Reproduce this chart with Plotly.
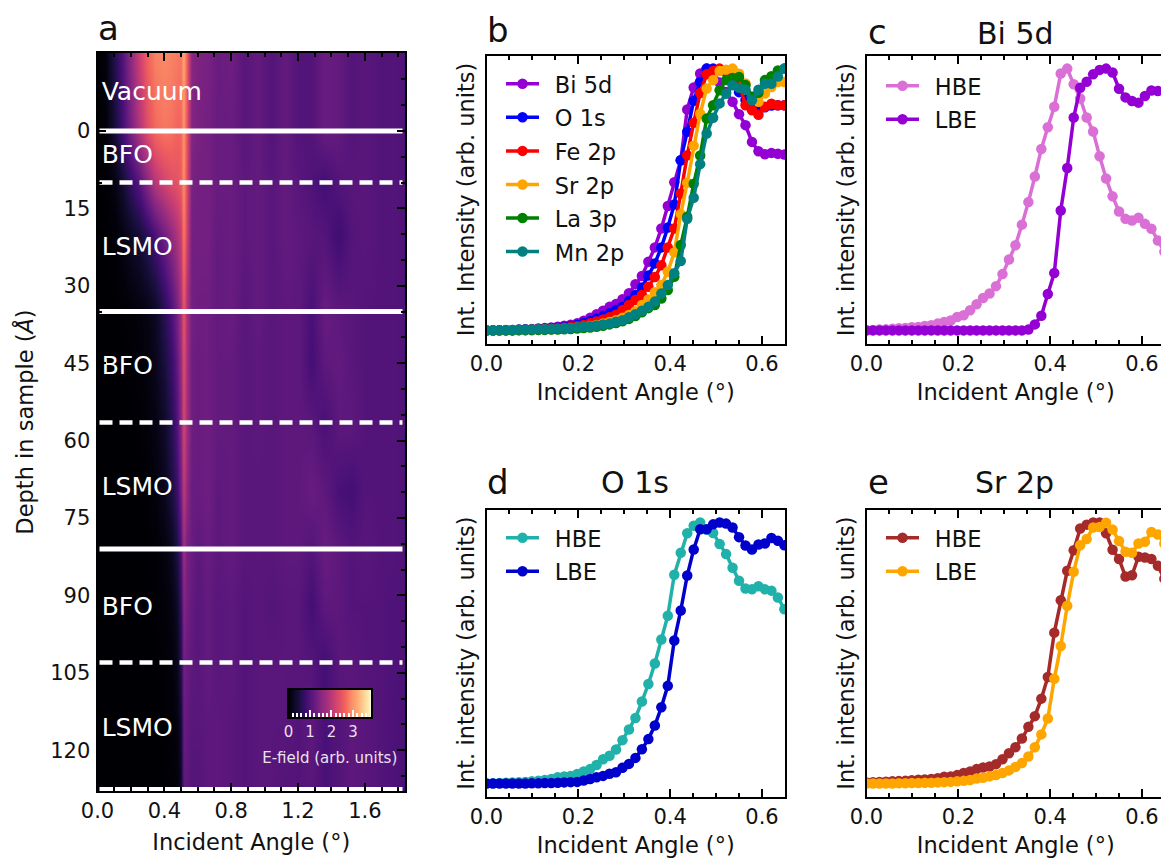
import plotly.graph_objects as go

W, H = 1170, 860
FONT = "DejaVu Sans"
PAGE = 0

angles = [0.0000,0.0141,0.0282,0.0423,0.0564,0.0705,0.0846,0.0987,0.1128,0.1269,0.1410,0.1551,0.1692,0.1833,0.1974,0.2115,
          0.2256,0.2397,0.2538,0.2679,0.2820,0.2961,0.3102,0.3243,0.3384,0.3525,0.3666,0.3807,0.3948,0.4089,0.4230,0.4371,
          0.4512,0.4653,0.4794,0.4935,0.5076,0.5217,0.5358,0.5499,0.5640,0.5781,0.5922,0.6063,0.6204,0.6345,0.6486]

bi_5d = [0,0,.1,.1,.2,.3,.4,.5,.7,.9,1.1,1.4,1.8,2.2,2.7,3.7,4.8,6.2,7.5,9,10.1,11.9,14.2,17.6,20.8,26.2,31.7,38.9,47.5,56.6,65,84.4,92.8,98.1,100,99,94.7,91.1,87.3,82.6,78.4,72,68.4,67.3,67.8,67.5,67.2]
o_1s = [0,0,.1,.1,.1,.2,.3,.3,.5,.6,.8,1,1.3,1.7,2.1,2.8,3.6,4.5,5.5,6.6,7.8,9,11.2,13.5,16.4,21,25.6,31.7,39.3,48.1,65,75.9,87.7,94.9,100,100,99.3,98.7,98,91,88,87.5,85.6,85.2,85.9,86,86]
fe_2p = [0,0,0,.1,.1,.2,.2,.3,.4,.5,.6,.7,1,1.3,1.6,2.1,2.7,3.4,4.2,5,6,7.8,9.7,11.6,13.5,16.7,20.4,24.9,31.7,38.9,52.3,66.9,79.3,90.7,97.8,99.1,100,99.1,98.3,94.1,86,84.1,82.4,85.4,86.6,86,86]
sr_2p = [0,0,0,0,.1,.1,.1,.2,.2,.3,.4,.5,.6,.8,1,1.3,1.7,2.1,2.6,3.2,3.9,4.8,5.9,7.3,9.7,11.8,14.6,17.3,22.4,29.8,44.4,56.4,70.5,82.8,92.4,95.6,99.1,99.6,100,98,94.3,89.2,87.3,90.5,93,94.9,94.9]
la_3p = [0,0,0,0,0,.1,.1,.1,.2,.2,.3,.3,.4,.5,.7,.9,1.1,1.4,1.8,2.3,2.8,3.5,4.4,5.5,6.9,8.5,9.7,12.2,15.4,20.5,32.6,43.4,56,66.8,80.9,86,91.7,95.6,96.4,96.8,93.7,89.2,90.8,95.6,97.1,99.3,100]
mn_2p = [.1,.1,.1,.2,.2,.3,.3,.3,.4,.4,.5,.6,.7,.9,1.2,1.4,1.6,1.9,2.3,2.6,3.3,3.9,5,6.2,7.5,9,11,14.1,17.3,21.8,26.5,42.6,50.7,63.5,75.2,81.2,86.7,90.4,93.6,92.7,91.9,87.9,91.9,94.2,94.2,97,100]

bi_hbe = [.1,.2,.3,.4,.6,.8,.9,1.2,1.3,1.7,2,2.6,3.2,3.8,5.1,5.8,7.7,10,12.4,14.1,16.9,21.5,27.1,32.5,40.4,49,58.8,69.3,77.6,85.4,98.1,100,94,88.6,81.3,76,66.5,58,51.2,45.4,42.6,42,43,40.7,38.8,34.3,30.1]
bi_lbe = [0,0,0,0,0,0,0,0,0,0,0,0,0,0,0,0,0,0,0,0,0,0,0,0,0,.3,2.3,5.6,13.9,21.9,45.8,62,81.3,92.7,95,97.8,99.5,100,98.5,92.3,89,87.6,87,89.5,91.6,91.4,91.4]
o_hbe = [0,.1,.2,.3,.4,.5,.6,.8,1,1.3,1.7,2.4,2.7,2.9,3.6,4.6,5.5,7.1,9.3,10.6,13,16.6,20.7,25.1,31.4,38.1,46,55.2,64.3,80,88.4,95.9,98.8,100,97.3,96,91.8,87.9,82.7,77.7,74.7,74.4,75.6,74.4,73.9,71.3,66.8]
o_lbe = [0,0,0,0,0,0,0,.1,.1,.2,.2,.3,.4,.5,.6,1.1,1.7,2.4,2.9,3.7,4.3,6,7.5,9.8,13.1,17,22.2,29.2,37.4,54.8,66.3,79.7,89.7,97.4,97.4,99.3,100,99.6,98.1,94.4,91.2,89.7,91.6,92,94.1,93,91.3]
sr_hbe = [.4,.5,.6,.7,.8,.9,1,1.2,1.4,1.5,1.7,2,2.6,2.7,3.2,4,4.6,5.5,6.1,6.5,7.4,9.3,11.6,13.9,17.2,21.7,25.8,32.5,40.8,57.8,70.2,81.5,89.4,97.7,99.2,100,100,95.9,89.6,86,79.3,79.8,86.9,86.6,86,83.4,78.5]
sr_lbe = [0,0,0,0,0,.1,.1,.2,.2,.3,.3,.4,.5,.6,.8,1,1.3,1.9,2.2,2.7,3.2,4,5,6.3,7.8,10.3,13.9,18.8,24.9,40.1,52.7,68.1,81.1,91.3,93.7,98.1,98.3,99.9,97.3,92.9,88.8,88.4,92,92.6,96.4,95.4,92]

efield_angles = [0,.05,.1,.15,.2,.25,.3,.35,.4,.44,.47,.495,.515,.535,.56,.6,.66,.72,.8,.88,.96,1.04,1.12,1.2,1.28,1.36,1.44,1.52,1.6,1.68,1.76,1.84]
efield_depths = [-15,0,10,20,35,45,56,70,81,92,103,115,128]
efield_m15 = [0,.06,.55,1.0,1.55,2.15,2.6,2.85,2.9,2.85,2.8,2.75,3.15,2.6,1.5, 1.4,1.35,1.2,1.25,1.05,1.15,1.0,1.15,1.0,1.0,1.2,1.15,1.0,1.05,1.0,1.0,.95]
efield_0 = [0,.04,.4,.85,1.35,1.9,2.35,2.65,2.75,2.7,2.6,2.6,3.0,2.45,1.45, 1.35,1.3,1.2,1.2,1.05,1.15,1.0,1.15,1.0,1.0,1.2,1.15,1.0,1.05,1.0,1.0,.95]
efield_10 = [0,.01,.1,.35,.7,1.05,1.5,1.95,2.2,2.35,2.4,2.5,2.95,2.35,1.35, 1.3,1.3,1.2,1.2,1.1,1.15,1.05,1.15,1.05,.95,.85,1.0,1.05,1.05,1.0,1.0,.95]
efield_20 = [0,0,.02,.1,.25,.4,.65,.95,1.3,1.6,1.85,2.1,2.8,2.2,1.3, 1.3,1.3,1.15,1.2,1.1,1.15,1.05,1.15,1.1,1.05,1.0,.8,1.0,1.05,1.0,1.0,.95]
efield_35 = [0,0,0,.01,.03,.06,.12,.25,.6,.95,1.3,1.75,2.45,1.85,1.3, 1.25,1.25,1.15,1.2,1.05,1.15,1.05,1.1,1.1,.9,1.2,1.1,1.05,1.0,1.0,1.0,.95]
efield_45 = [0,0,0,0,.01,.03,.08,.18,.45,.75,1.1,1.6,2.35,1.8,1.25, 1.2,1.25,1.15,1.15,1.05,1.1,1.05,1.1,1.1,.85,1.1,1.15,1.05,1.0,1.0,1.0,.95]
efield_56 = [0,0,0,0,0,.01,.05,.12,.3,.6,.95,1.45,2.25,1.75,1.25, 1.2,1.25,1.15,1.15,1.05,1.1,1.05,1.1,1.1,1.05,.9,1.1,1.1,1.0,1.0,1.0,.95]
efield_70 = [0,0,0,0,0,0,.02,.06,.2,.45,.75,1.25,2.0,1.6,1.2, 1.2,1.25,1.1,1.15,1.05,1.05,1.05,1.1,1.1,1.2,1.1,.9,.85,1.0,1.0,1.0,.95]
efield_81 = [0,0,0,0,0,0,0,.02,.08,.2,.45,.9,1.7,1.35,1.2, 1.1,1.2,1.1,1.15,1.05,1.05,1.05,1.1,1.1,1.0,1.2,1.1,1.0,1.05,1.0,1.0,.95]
efield_92 = [0,0,0,0,0,0,0,.01,.04,.1,.25,.65,1.45,1.3,1.15, 1.05,1.15,1.05,1.1,1.0,1.05,1.0,1.05,1.05,.85,1.1,1.1,1.0,1.0,1.0,.95,.95]
efield_103 = [0,0,0,0,0,0,0,0,.02,.05,.15,.5,1.3,1.2,1.1, 1.05,1.15,1.05,1.1,1.0,1.05,1.05,1.05,1.05,1.0,.85,1.05,1.05,1.0,1.0,.95,.95]
efield_115 = [0,0,0,0,0,0,0,0,.01,.03,.08,.3,1.2,1.15,1.05, 1.05,1.1,1.1,1.05,1.0,1.05,1.05,1.05,1.0,1.1,.9,1.0,1.1,1.05,1.0,.95,.9]
efield_128 = [0,0,0,0,0,0,0,0,0,.02,.04,.2,1.1,1.1,1.0, 1.0,1.1,1.1,1.05,1.0,1.05,1.05,1.0,1.0,1.05,.9,1.0,1.1,1.05,1.0,.95,.9]
efield_rows = [efield_m15,efield_0,efield_10,efield_20,efield_35,efield_45,efield_56,efield_70,efield_81,efield_92,efield_103,efield_115,efield_128]

cbar_levels = [0,.2,.4,.6,.8,1,1.2,1.4,1.6,1.8,2,2.2,2.4,2.6,2.8,3,3.2,3.4,3.6,3.86]
solid_depths = [0,35,81,127.6]
dashed_depths = [10,56.5,103]
depth_ticks = [0,15,30,45,60,75,90,105,120]
layer_labels = ["Vacuum","BFO","LSMO","BFO","LSMO","BFO","LSMO"]
layer_depths = [-7.2,5,22.9,45.9,69.4,92.6,116]

EMAX = 3.86
def dx(a, b): return [(a-PAGE)/W, (b-PAGE)/W]
def dy(t, b): return [1-(b-PAGE)/H, 1-(t-PAGE)/H]

fig = go.Figure()

fig.add_trace(go.Heatmap(x=efield_angles, y=efield_depths, z=efield_rows, colorscale="Magma", zmin=0, zmax=EMAX,
                         zsmooth="best", showscale=False, xaxis="x", yaxis="y", hoverinfo="skip"))
for d in solid_depths:
    fig.add_trace(go.Scatter(x=[0.012,1.825], y=[d,d], mode="lines", line=dict(color="white", width=5),
                             showlegend=False, xaxis="x", yaxis="y"))
for d in dashed_depths:
    fig.add_trace(go.Scatter(x=[0.012,1.825], y=[d,d], mode="lines", line=dict(color="white", width=4.5, dash="13px,7px"),
                             showlegend=False, xaxis="x", yaxis="y"))
fig.add_trace(go.Scatter(x=[0.025]*len(layer_labels), y=layer_depths, mode="text", text=layer_labels, textposition="middle right",
                         textfont=dict(family=FONT, size=25, color="white"), showlegend=False, xaxis="x", yaxis="y"))

def lines(ax, ay, legend, series):
    for name, vals, col in series:
        fig.add_trace(go.Scatter(x=angles, y=[v/100 for v in vals], mode="lines+markers",
                                 name=f'<span style="font-size:17px">&nbsp;&nbsp;</span><span style="font-size:22.5px">{name}</span>',
                                 line=dict(color=col, width=3.5), marker=dict(color=col, size=10.5, line=dict(width=0)),
                                 xaxis=ax, yaxis=ay, legend=legend))

lines("x2","y2","legend",[("Bi 5d",bi_5d,"#9400D3"),("O 1s",o_1s,"#0000FF"),("Fe 2p",fe_2p,"#FF0000"),
                          ("Sr 2p",sr_2p,"#FFA500"),("La 3p",la_3p,"#008000"),("Mn 2p",mn_2p,"#008080")])
lines("x3","y3","legend2",[("HBE",bi_hbe,"#DA70D6"),("LBE",bi_lbe,"#9400D3")])
lines("x4","y4","legend3",[("HBE",o_hbe,"#20B2AA"),("LBE",o_lbe,"#0000CD")])
lines("x5","y5","legend4",[("HBE",sr_hbe,"#A52A2A"),("LBE",sr_lbe,"#FFA500")])

fig.add_trace(go.Heatmap(x=cbar_levels, y=[0,1], z=[cbar_levels,cbar_levels], colorscale="Magma", zmin=0, zmax=EMAX,
                         zsmooth="best", showscale=False, xaxis="x6", yaxis="y6", hoverinfo="skip"))

tick = dict(family=FONT, size=21, color="#111111")
ttl = dict(family=FONT, size=22.5, color="#111111")

def xax(domain, rng, major, minor, anchor, title="Incident Angle (°)", standoff=10):
    return dict(domain=domain, range=rng, anchor=anchor, dtick=major, tick0=0, tickformat=".1f", automargin=False,
                ticks="inside", ticklen=8, tickwidth=2, tickcolor="black", showline=True, linecolor="black", linewidth=2,
                mirror="ticks", showgrid=False, zeroline=False, tickfont=tick, ticklabelstandoff=0,
                minor=dict(dtick=minor, tick0=0, ticks="inside", ticklen=4, tickwidth=1.5, tickcolor="black", showgrid=False),
                title=dict(text=title, font=ttl, standoff=standoff))

def yax(domain, anchor, title):
    return dict(domain=domain, range=[-0.05,1.05], anchor=anchor, showticklabels=False, ticks="", showgrid=False, zeroline=False,
                showline=True, linecolor="black", linewidth=2, mirror=True, automargin=False,
                title=dict(text=title, font=ttl, standoff=4))

L, R = 486.5, 785
L2, R2 = 866.5, 1165
b_y, d_y = dy(55.5,343.5), dy(509.5,796.5)

fig.update_layout(
    width=W, height=H, margin=dict(l=0,r=0,t=0,b=0,autoexpand=False), paper_bgcolor="white", plot_bgcolor="white",
    font=dict(family=FONT),
    xaxis=dict(xax(dx(97.5,405),[0,1.84],0.4,0.1,"y",standoff=12)),
    yaxis=dict(domain=dy(53,791), range=[127.9,-15.1], anchor="x", tickmode="array", tickvals=depth_ticks, ticks="inside", ticklen=8, tickwidth=2,
               tickcolor="black", showline=True, linecolor="black", linewidth=2, mirror="ticks", showgrid=False, zeroline=False,
               tickfont=tick, ticklabelstandoff=1, automargin=False,
               minor=dict(dtick=5, tick0=0, ticks="inside", ticklen=4, tickwidth=1.5, tickcolor="black", showgrid=False),
               title=dict(text="Depth in sample (<i>Å</i>)", font=ttl, standoff=10)),
    xaxis2=xax(dx(L,R),[0,0.65],0.2,0.05,"y2"),
    yaxis2=yax(b_y,"x2","Int. Intensity (arb. units)"),
    xaxis3=xax(dx(L2,R2),[0,0.65],0.2,0.05,"y3"),
    yaxis3=yax(b_y,"x3","Int. intensity (arb. units)"),
    xaxis4=xax(dx(L,R),[0,0.65],0.2,0.05,"y4"),
    yaxis4=yax(d_y,"x4","Int. intensity (arb. units)"),
    xaxis5=xax(dx(L2,R2),[0,0.65],0.2,0.05,"y5"),
    yaxis5=yax(d_y,"x5","Int. intensity (arb. units)"),
    xaxis6=dict(domain=dx(288.5,371),range=[0,3.84],anchor="y6",dtick=1,tick0=0,ticks="inside",ticklen=7,tickwidth=1.5,tickcolor="white",
                showline=True,linecolor="black",linewidth=2,mirror=True,showgrid=False,zeroline=False,automargin=False,
                tickfont=dict(family=FONT,size=15,color="rgba(255,255,255,0.88)"),ticklabelstandoff=0,
                minor=dict(dtick=0.2,tick0=0,ticks="inside",ticklen=4,tickwidth=1.5,tickcolor="white",showgrid=False),
                title=dict(text="E-field (arb. units)",font=dict(family=FONT,size=15,color="rgba(255,255,255,0.88)"),standoff=12)),
    yaxis6=dict(domain=dy(690,717),range=[0,1],anchor="x6",showticklabels=False,ticks="",showgrid=False,zeroline=False,automargin=False,
                showline=True,linecolor="black",linewidth=2,mirror=True),
    showlegend=True,
)

def leg(x_px, y_px):
    return dict(x=(x_px-PAGE)/W, y=1-(y_px-PAGE)/H, xanchor="left", yanchor="top", bgcolor="rgba(0,0,0,0)", borderwidth=0,
                font=dict(family=FONT, size=23.5, color="#111111"), itemwidth=33, tracegroupgap=0)
fig.update_layout(legend=leg(501,62), legend2=leg(881,64), legend3=leg(501,516), legend4=leg(881,516))

for txt, x, y, size in [("a",96,28,34),("b",485,30,34),("c",866,32,34),("d",485,482,34),("e",866,482,34),
                        ("Bi 5d",975,33,30),("O 1s",599,483,30),("Sr 2p",973,483,30)]:
    fig.add_annotation(text=txt, x=(x-PAGE)/W, y=1-(y-PAGE)/H, xref="paper", yref="paper", xanchor="left", yanchor="middle",
                       showarrow=False, font=dict(family=FONT, size=size, color="#111111"))

fig.write_html("out.html", default_width=f"{W}px", default_height=f"{H}px", config=dict(displayModeBar=False),
               post_script="document.body.style.margin='0';document.documentElement.style.overflow='hidden';")
